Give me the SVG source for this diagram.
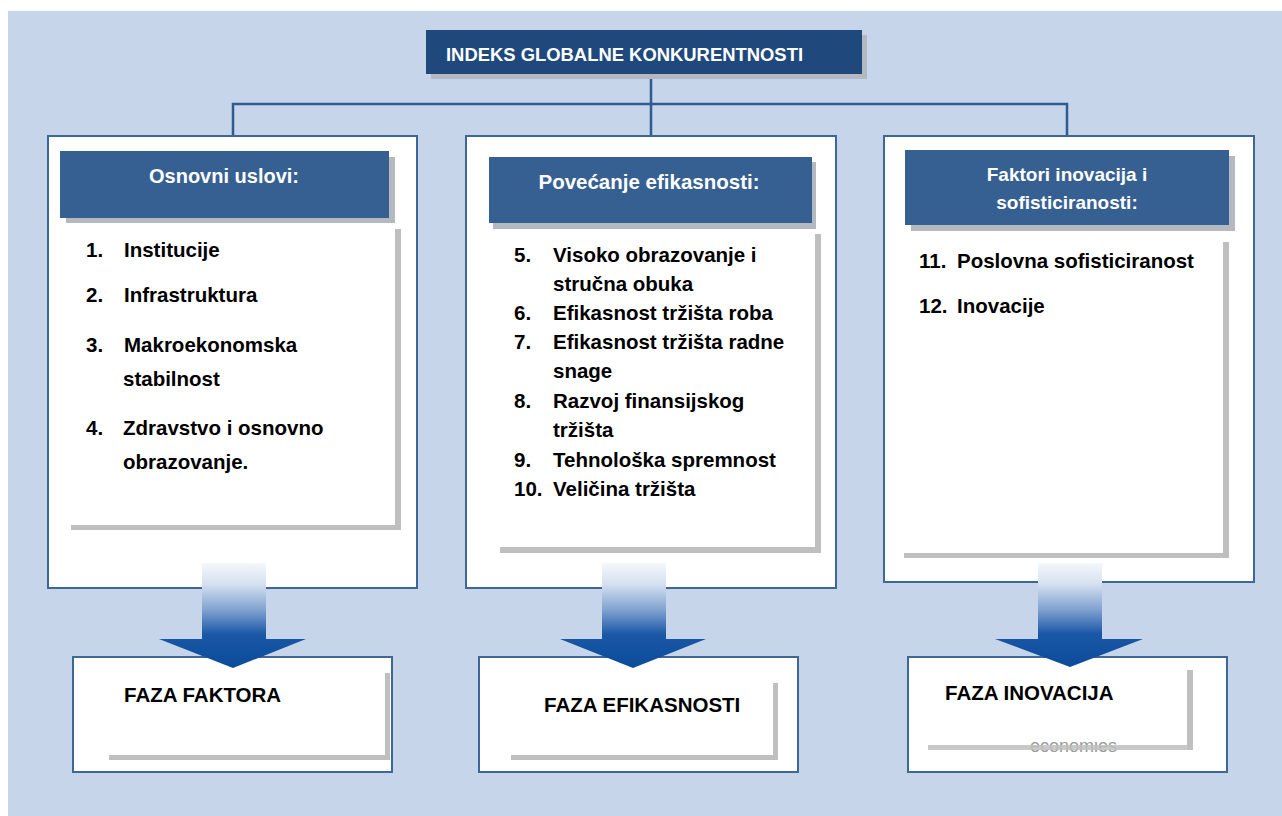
<svg xmlns="http://www.w3.org/2000/svg" width="1282" height="816" viewBox="0 0 1282 816">
  <style>
    .bg{fill:#c6d5ea}
    .col{fill:#ffffff;stroke:#3e6697;stroke-width:2}
    .hdr{fill:#376092}
    .ttl{fill:#1f497d}
    .hsh{fill:#b4b9c1}
    .sh{fill:#bfbfbf}
    .t{font-family:"Liberation Sans",Arial,sans-serif;font-weight:bold}
    .w{fill:#ffffff}
    .k{fill:#000000}
    .conn{fill:none;stroke:#2f5b8e;stroke-width:2.5}
    .arrow{stroke:none}
  </style>
  <defs>
    <linearGradient id="arrGrad" x1="0" y1="0" x2="0" y2="1">
      <stop offset="0" stop-color="#f4f7fc"/>
      <stop offset="0.2" stop-color="#d6e1f0"/>
      <stop offset="0.45" stop-color="#7fa1cf"/>
      <stop offset="0.68" stop-color="#1a58a6"/>
      <stop offset="1" stop-color="#0b4b9a"/>
    </linearGradient>
    <clipPath id="econClip">
      <rect x="1020" y="742" width="110" height="14"/>
    </clipPath>
  </defs>

  <rect class="bg" x="8" y="11" width="1274" height="805"/>

  <g id="connectors">
    <path class="conn" d="M651 74 V137 M233 137 V104 H1067 V137"/>
  </g>

  <g id="title">
    <rect class="hsh" x="431" y="35" width="436" height="44"/>
    <rect class="ttl" x="426" y="30" width="436" height="44"/>
    <text class="t w" x="446" y="61" font-size="18.5" textLength="357" lengthAdjust="spacingAndGlyphs">INDEKS GLOBALNE KONKURENTNOSTI</text>
  </g>

  <g id="col-osnovni">
    <rect class="col" x="48" y="136" width="369" height="452"/>
    <rect class="sh" x="395" y="229" width="6" height="301"/>
    <rect class="sh" x="71" y="525" width="330" height="5"/>
    <rect class="hsh" x="66" y="157" width="329" height="66"/>
    <rect class="hdr" x="60" y="151" width="329" height="67"/>
    <text class="t w" x="224" y="183" font-size="20" text-anchor="middle">Osnovni uslovi:</text>
    <g class="t k" font-size="20.5">
      <text x="86" y="257">1.</text><text x="124" y="257">Institucije</text>
      <text x="86" y="302">2.</text><text x="124" y="302">Infrastruktura</text>
      <text x="86" y="352">3.</text><text x="124" y="352">Makroekonomska</text>
      <text x="123" y="386">stabilnost</text>
      <text x="86" y="435">4.</text><text x="123" y="435">Zdravstvo i osnovno</text>
      <text x="123" y="469">obrazovanje.</text>
    </g>
  </g>

  <g id="col-efikasnost">
    <rect class="col" x="466" y="136" width="370" height="452"/>
    <rect class="sh" x="815" y="234" width="6" height="319"/>
    <rect class="sh" x="500" y="547" width="321" height="6"/>
    <rect class="hsh" x="493" y="162" width="323" height="67"/>
    <rect class="hdr" x="489" y="157" width="323" height="66"/>
    <text class="t w" x="649" y="189" font-size="20.5" text-anchor="middle">Povećanje efikasnosti:</text>
    <g class="t k" font-size="20.5">
      <text x="514" y="262">5.</text><text x="553" y="262">Visoko obrazovanje i</text>
      <text x="553" y="291">stručna obuka</text>
      <text x="514" y="320">6.</text><text x="553" y="320">Efikasnost tržišta roba</text>
      <text x="514" y="349">7.</text><text x="553" y="349">Efikasnost tržišta radne</text>
      <text x="553" y="378">snage</text>
      <text x="514" y="408">8.</text><text x="553" y="408">Razvoj finansijskog</text>
      <text x="553" y="437">tržišta</text>
      <text x="514" y="467">9.</text><text x="553" y="467">Tehnološka spremnost</text>
      <text x="514" y="496">10.</text><text x="553" y="496">Veličina tržišta</text>
    </g>
  </g>

  <g id="col-inovacije">
    <rect class="col" x="884" y="136" width="370" height="446"/>
    <rect class="sh" x="1223" y="242" width="6" height="316"/>
    <rect class="sh" x="904" y="553" width="325" height="5"/>
    <rect class="hsh" x="911" y="156" width="324" height="75"/>
    <rect class="hdr" x="905" y="150" width="324" height="75"/>
    <text class="t w" x="1067" y="181" font-size="19" text-anchor="middle">Faktori inovacija i</text>
    <text class="t w" x="1067" y="209" font-size="19" text-anchor="middle">sofisticiranosti:</text>
    <g class="t k" font-size="20.5">
      <text x="919" y="268">11.</text><text x="957" y="268">Poslovna sofisticiranost</text>
      <text x="919" y="313">12.</text><text x="957" y="313">Inovacije</text>
    </g>
  </g>

  <g id="faza-faktora">
    <rect class="col" x="73" y="657" width="319" height="115"/>
    <rect class="sh" x="385" y="673" width="5" height="87"/>
    <rect class="sh" x="109" y="755" width="281" height="5"/>
    <text class="t k" x="124" y="702" font-size="20.5">FAZA FAKTORA</text>
  </g>

  <g id="faza-efikasnosti">
    <rect class="col" x="479" y="657" width="319" height="115"/>
    <rect class="sh" x="773" y="683" width="5" height="77"/>
    <rect class="sh" x="511" y="755" width="267" height="5"/>
    <text class="t k" x="544" y="712" font-size="20.5">FAZA EFIKASNOSTI</text>
  </g>

  <g id="faza-inovacija">
    <rect class="col" x="908" y="657" width="319" height="115"/>
    <text x="1030" y="752" font-size="18" font-family="Liberation Sans, Arial, sans-serif" fill="#9a9a9a" clip-path="url(#econClip)">economies</text>
    <rect class="sh" x="1187" y="670" width="6" height="80"/>
    <rect class="sh" x="928" y="745" width="265" height="5" fill-opacity="0.85"/>
    <text class="t k" x="945" y="700" font-size="20.5">FAZA INOVACIJA</text>
  </g>

  <g id="arrows">
    <path class="arrow" fill="url(#arrGrad)" d="M202 563 H266 V639 H306 L233 668 L159 639 H202 Z"/>
    <path class="arrow" fill="url(#arrGrad)" d="M602 563 H666 V639 H706 L633 668 L560 639 H602 Z"/>
    <path class="arrow" fill="url(#arrGrad)" d="M1038 563 H1102 V639 H1143 L1070 667 L995 639 H1038 Z"/>
  </g>
</svg>
